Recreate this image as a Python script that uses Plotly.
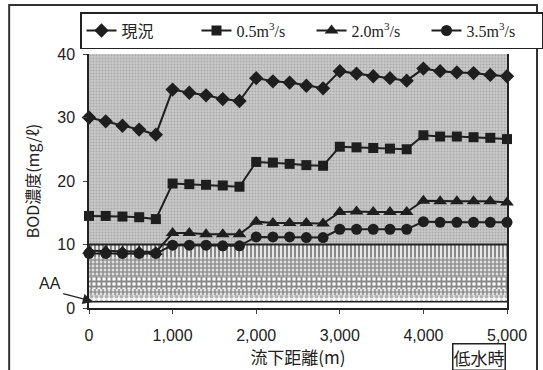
import plotly.graph_objects as go

# ---- data ----
distance = [0, 200, 400, 600, 800, 1000, 1200, 1400, 1600, 1800, 2000, 2200, 2400,
            2600, 2800, 3000, 3200, 3400, 3600, 3800, 4000, 4200, 4400, 4600, 4800, 5000]
genkyo = [30.0, 29.4, 28.7, 28.1, 27.3, 34.4, 33.9, 33.5, 32.9, 32.6, 36.2, 35.7, 35.5,
          35.0, 34.6, 37.3, 36.9, 36.5, 36.2, 35.8, 37.7, 37.3, 37.1, 37.0, 36.7, 36.5]
q05 = [14.5, 14.5, 14.4, 14.3, 14.0, 19.6, 19.5, 19.4, 19.3, 19.1, 23.0, 22.9, 22.7,
       22.5, 22.4, 25.4, 25.3, 25.2, 25.1, 25.0, 27.2, 27.0, 27.0, 26.9, 26.8, 26.6]
q20 = [9.0, 9.0, 8.9, 8.9, 8.8, 11.8, 11.8, 11.6, 11.6, 11.6, 13.6, 13.4, 13.4,
       13.4, 13.3, 15.1, 15.2, 15.1, 15.1, 15.1, 16.9, 16.8, 16.8, 16.8, 16.8, 16.6]
q35 = [8.6, 8.6, 8.6, 8.6, 8.6, 9.9, 9.9, 9.9, 9.8, 9.8, 11.2, 11.2, 11.2,
       11.1, 11.1, 12.4, 12.4, 12.4, 12.4, 12.4, 13.6, 13.5, 13.5, 13.5, 13.5, 13.5]
series_names = ["現況", "0.5m<sup>3</sup>/s", "2.0m<sup>3</sup>/s", "3.5m<sup>3</sup>/s"]
series_symbols = ["diamond", "square", "triangle-up", "circle"]
series_sizes = [11, 10, 12, 11]

band_bounds = [0, 1, 2, 3, 5, 8, 10, 40]   # environmental class limits (AA, A, B, C, D, E, over)
x_ticks = [0, 1000, 2000, 3000, 4000, 5000]
x_ticklabels = ["0", "1,000", "2,000", "3,000", "4,000", "5,000"]
y_ticks = [0, 10, 20, 30, 40]
aa_point = (50, 1.0)

# ---- styles for bands ----
band_styles = [
    dict(fillcolor="white", fillpattern=None),
    dict(fillcolor="white", fillpattern=dict(shape=".", fgcolor="#666666", bgcolor="white", size=5, solidity=0.55)),
    dict(fillcolor="white", fillpattern=dict(shape=".", fgcolor="#222222", bgcolor="white", size=4, solidity=0.7)),
    dict(fillcolor="white", fillpattern=dict(shape="+", fgcolor="#111111", bgcolor="white", size=5, solidity=0.6)),
    dict(fillcolor="white", fillpattern=dict(shape=".", fgcolor="#2a2a2a", bgcolor="white", size=4, solidity=0.75)),
    dict(fillcolor="white", fillpattern=dict(shape="|", fgcolor="#111111", bgcolor="white", size=4, solidity=0.6)),
    dict(fillcolor="#c0c0c0", fillpattern=dict(shape=".", fgcolor="#8a8a8a", bgcolor="#cacaca", size=3, solidity=0.4)),
]

fig = go.Figure()
x0, x1 = distance[0], distance[-1]
for i in range(len(band_bounds) - 1):
    lo, hi = band_bounds[i], band_bounds[i + 1]
    st = band_styles[i]
    kw = dict(x=[x0, x1, x1, x0, x0], y=[lo, lo, hi, hi, lo], mode="lines",
              fill="toself", fillcolor=st["fillcolor"], line=dict(width=0),
              showlegend=False, hoverinfo="skip")
    if st["fillpattern"]:
        kw["fillpattern"] = st["fillpattern"]
    fig.add_trace(go.Scatter(**kw))

# band separator lines
for lvl, w in [(10, 2), (1, 1.5)]:
    fig.add_trace(go.Scatter(x=[x0, x1], y=[lvl, lvl], mode="lines",
                             line=dict(color="#222222", width=w),
                             showlegend=False, hoverinfo="skip"))

for ys, name, sym, sz in zip([genkyo, q05, q20, q35], series_names, series_symbols, series_sizes):
    fig.add_trace(go.Scatter(
        x=distance, y=ys, name=name, mode="lines+markers",
        line=dict(color="#1e1e1e", width=2),
        marker=dict(symbol=sym, size=sz, color="#1e1e1e"),
        cliponaxis=False,
    ))

# AA marker annotation
fig.add_annotation(x=aa_point[0], y=aa_point[1], text="AA", showarrow=True,
                   arrowhead=2, arrowsize=1.6, arrowwidth=1.3, arrowcolor="#222222",
                   ax=-30, ay=-8, xanchor="right", yanchor="bottom",
                   font=dict(family="Liberation Sans, Arial", size=16, color="#222222"))

# condition label box
fig.add_annotation(xref="paper", yref="paper", x=0.998, y=-0.136, text="低水時",
                   showarrow=False, xanchor="right", yanchor="top",
                   font=dict(family="Noto Sans CJK JP", size=17, color="#222222"),
                   bordercolor="#222222", borderwidth=1.5, borderpad=0, bgcolor="white")

# outer frame (bottom edge falls below the visible page, as in the reference)
fig.add_shape(type="rect", xref="paper", yref="paper",
              x0=-0.191, x1=1.0718, y0=-0.26, y1=1.193,
              line=dict(color="#333333", width=2))

fig.update_layout(
    width=543, height=370,
    margin=dict(l=89, r=36, t=54, b=62),
    paper_bgcolor="white", plot_bgcolor="white",
    font=dict(family="Liberation Sans, Arial, Noto Sans CJK JP", size=16, color="#222222"),
    legend=dict(orientation="h", x=-0.012, y=1.165, xanchor="left", yanchor="top",
                bordercolor="#222222", borderwidth=1.5, bgcolor="white",
                font=dict(family="Liberation Serif, Noto Sans CJK JP", size=16, color="#222222"),
                entrywidth=70, entrywidthmode="pixels", itemwidth=30,
                tracegroupgap=0),
    xaxis=dict(range=[0, 5000], tickvals=x_ticks, ticktext=x_ticklabels,
               showgrid=False, zeroline=False, showline=True, linecolor="#222222",
               linewidth=1.5, ticks="outside", ticklen=4, tickcolor="#444444",
               ticklabelstandoff=8,
               title=dict(text="流下距離(m)", standoff=0,
                          font=dict(family="Noto Sans CJK JP", size=17))),
    yaxis=dict(range=[0, 40], tickvals=y_ticks, showgrid=False, zeroline=False,
               showline=True, mirror=True, linecolor="#222222", linewidth=1.5,
               ticks="outside", ticklen=4, tickcolor="#444444",
               ticklabelstandoff=5,
               title=dict(text="BOD濃度(mg/ℓ)", standoff=14,
                          font=dict(family="Noto Sans CJK JP", size=16))),
)

fig.write_html("out.html")
